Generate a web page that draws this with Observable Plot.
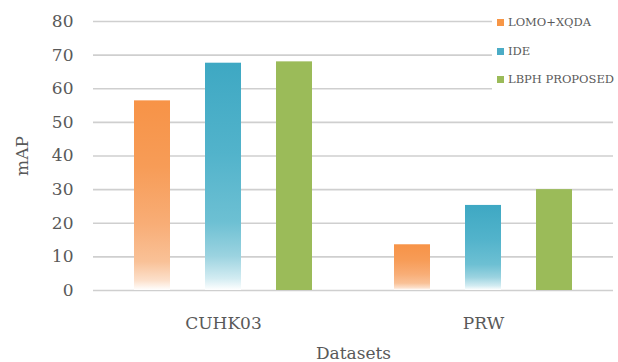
<!DOCTYPE html>
<html>
<head>
<meta charset="utf-8">
<script src="https://cdn.jsdelivr.net/npm/d3@7"></script>
<script src="https://cdn.jsdelivr.net/npm/@observablehq/plot@0.6"></script>
<style>
  html, body { margin: 0; padding: 0; background: #fff; }
  #wrap { position: relative; width: 618px; height: 362px; overflow: hidden; }
  #legend { position: absolute; left: 492px; top: 0; width: 126px; height: 104px; background: #fff;
    font-family: "DejaVu Serif", serif; font-size: 11.5px; color: #595959; }
  .item { position: absolute; left: 5px; display: flex; align-items: center; white-space: nowrap; }
  .sw { width: 7px; height: 7px; margin-right: 4px; }
</style>
</head>
<body>
<div id="wrap"></div>
<script>
const datasets = ["CUHK03", "PRW"];
const methods = ["LOMO+XQDA", "IDE", "LBPH PROPOSED"];
const lomoXqda = [56.4, 13.6];
const ide = [67.6, 25.3];
const lbph = [68.0, 30.0];
const yTicks = [0, 10, 20, 30, 40, 50, 60, 70, 80];
const swatchColors = ["#F79646", "#4BACC6", "#9BBB59"];

const seriesValues = [lomoXqda, ide, lbph];
const rows = [];
datasets.forEach((ds, i) => methods.forEach((m, j) => rows.push({dataset: ds, method: m, value: seriesValues[j][i]})));

const textColor = "#595959";
const svg = Plot.plot({
  width: 618,
  height: 362,
  marginTop: 21,
  marginBottom: 72,
  marginLeft: 92,
  marginRight: 5,
  style: {fontFamily: "DejaVu Serif, serif", fontSize: "17px", color: textColor, background: "#fff"},
  fx: {domain: datasets, padding: 0, label: "Datasets"},
  x: {domain: methods, paddingInner: 0.5, paddingOuter: 0.57, axis: null},
  y: {domain: [0, 80], ticks: yTicks, label: "mAP"},
  color: {domain: methods, range: ["url(#gOrange)", "url(#gBlue)", "#9BBB59"]},
  marks: [
    Plot.gridY(yTicks, {stroke: "#cfcfcf", strokeOpacity: 1, strokeWidth: 1.6}),
    Plot.axisY(yTicks, {tickSize: 0, tickPadding: 20, fontSize: 17, label: "mAP", labelAnchor: "center", labelOffset: 78, labelArrow: "none"}),
    Plot.axisFx({anchor: "bottom", tickSize: 0, tickPadding: 26, fontSize: 17, label: "Datasets", labelAnchor: "center", labelOffset: 68, labelArrow: "none"}),
    Plot.barY(rows, {fx: "dataset", x: "method", y: "value", fill: "method"})
  ]
});

const defs = d3.select(svg).insert("defs", ":first-child");
function grad(id, stops) {
  const g = defs.append("linearGradient").attr("id", id).attr("x1", 0).attr("y1", 0).attr("x2", 0).attr("y2", 1);
  stops.forEach(([o, c]) => g.append("stop").attr("offset", o).attr("stop-color", c));
}
grad("gOrange", [[0, "#F79347"], [0.35, "#F79C57"], [0.65, "#F8AD76"], [0.85, "#F9C197"], [0.95, "#FCE0CB"], [1, "#FFFFFF"]]);
grad("gBlue", [[0, "#3EA8C3"], [0.4, "#52B3CB"], [0.7, "#6DC0D3"], [0.85, "#9BD3E0"], [0.95, "#D3ECF2"], [1, "#FFFFFF"]]);

const wrap = document.getElementById("wrap");
wrap.appendChild(svg);

const legend = document.createElement("div");
legend.id = "legend";
const rowTops = [23, 52, 80];
methods.forEach((m, i) => {
  const it = document.createElement("div");
  it.className = "item";
  it.style.top = (rowTops[i] - 8) + "px";
  const sw = document.createElement("span");
  sw.className = "sw";
  sw.style.background = swatchColors[i];
  const tx = document.createElement("span");
  tx.textContent = m;
  it.appendChild(sw);
  it.appendChild(tx);
  legend.appendChild(it);
});
wrap.appendChild(legend);
</script>
</body>
</html>
